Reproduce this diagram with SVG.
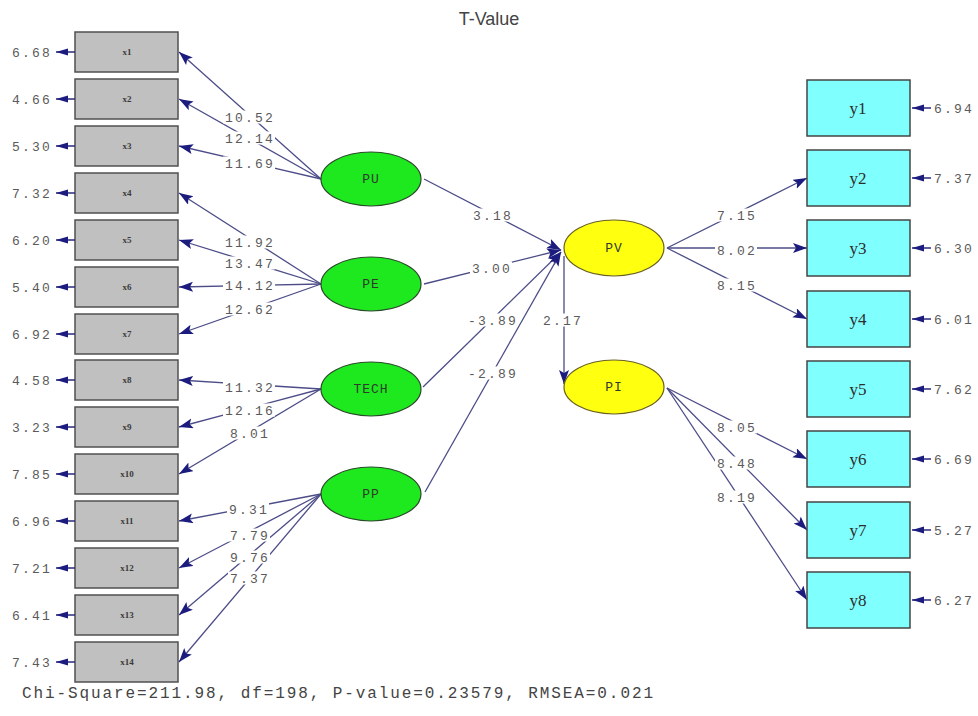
<svg xmlns="http://www.w3.org/2000/svg" width="978" height="716" viewBox="0 0 978 716">
<defs>
<marker id="ah" markerUnits="userSpaceOnUse" markerWidth="15" markerHeight="11" refX="14" refY="5" orient="auto">
<path d="M0,0 L14,5 L0,10 L3,5 z" fill="#1c1c7e"/>
</marker>
<marker id="eh" markerUnits="userSpaceOnUse" markerWidth="13" markerHeight="8" refX="12" refY="3.5" orient="auto">
<path d="M0,0 L12,3.5 L0,7 z" fill="#1c1c7e"/>
</marker>
<style>
.xb{fill:#c0c0c0;stroke:#505050;stroke-width:1.5}
.yb{fill:#80ffff;stroke:#454545;stroke-width:1.5}
.lg{fill:#1ee81e;stroke:#2a4a2a;stroke-width:1.2}
.ly{fill:#ffff10;stroke:#6a6020;stroke-width:1.2}
.xl{font-family:"Liberation Serif",serif;font-size:9px;font-weight:bold;fill:#3a3a3a;text-anchor:middle}
.yl{font-family:"Liberation Serif",serif;font-size:17px;fill:#2e2e2e;text-anchor:middle}
.el{font-family:"Liberation Mono",monospace;font-size:13px;fill:#2e3a2e;text-anchor:middle;letter-spacing:1px}
.n{font-family:"Liberation Mono",monospace;font-size:13px;fill:#5a5a5a;letter-spacing:2.2px}
.bg{fill:#ffffff}
.c{stroke:#4c4c88;stroke-width:1.3;fill:none;marker-end:url(#ah)}
.e{stroke:#2a2a80;stroke-width:1.5;fill:none;marker-end:url(#eh)}
</style>
</defs>
<rect width="978" height="716" fill="#ffffff"/>
<text x="489" y="25" font-family="Liberation Sans,sans-serif" font-size="18" fill="#444" text-anchor="middle">T-Value</text>

<g id="connectors">
<line class="c" x1="321" y1="179" x2="179" y2="52"/>
<line class="c" x1="321" y1="179" x2="179" y2="99"/>
<line class="c" x1="321" y1="179" x2="179" y2="146"/>
<line class="c" x1="321" y1="284" x2="179" y2="193"/>
<line class="c" x1="321" y1="284" x2="179" y2="240"/>
<line class="c" x1="321" y1="284" x2="179" y2="287"/>
<line class="c" x1="321" y1="284" x2="179" y2="334"/>
<line class="c" x1="321" y1="389" x2="179" y2="380"/>
<line class="c" x1="321" y1="389" x2="179" y2="427"/>
<line class="c" x1="321" y1="389" x2="179" y2="474"/>
<line class="c" x1="321" y1="494" x2="179" y2="521"/>
<line class="c" x1="321" y1="494" x2="179" y2="568"/>
<line class="c" x1="321" y1="494" x2="179" y2="615"/>
<line class="c" x1="321" y1="494" x2="179" y2="662"/>
<line class="c" x1="424" y1="179" x2="561" y2="250"/>
<line class="c" x1="424" y1="284" x2="561" y2="250"/>
<line class="c" x1="423" y1="387" x2="561" y2="252"/>
<line class="c" x1="425" y1="492" x2="561" y2="252"/>
<line class="c" x1="564" y1="256" x2="564" y2="384"/>
<line class="c" x1="667" y1="248" x2="807" y2="178"/>
<line class="c" x1="667" y1="248" x2="807" y2="248"/>
<line class="c" x1="667" y1="248" x2="807" y2="319"/>
<line class="c" x1="667" y1="388" x2="807" y2="459"/>
<line class="c" x1="667" y1="388" x2="807" y2="530"/>
<line class="c" x1="667" y1="388" x2="807" y2="600"/>
<g id="edge-label-backs" class="bg">
<rect x="223" y="110.5" width="52" height="13"/>
<rect x="223" y="131.5" width="52" height="13"/>
<rect x="223" y="156.5" width="52" height="13"/>
<rect x="223" y="235.5" width="52" height="13"/>
<rect x="223" y="256.5" width="52" height="13"/>
<rect x="223" y="278.5" width="52" height="13"/>
<rect x="223" y="302.5" width="52" height="13"/>
<rect x="223" y="380.5" width="52" height="13"/>
<rect x="223" y="403.5" width="52" height="13"/>
<rect x="228" y="426.5" width="42" height="13"/>
<rect x="227" y="502.5" width="42" height="13"/>
<rect x="228" y="528.5" width="42" height="13"/>
<rect x="228" y="550.5" width="42" height="13"/>
<rect x="228" y="571.5" width="42" height="13"/>
<rect x="471" y="208.5" width="42" height="13"/>
<rect x="470" y="261.5" width="42" height="13"/>
<rect x="466" y="313.5" width="52" height="13"/>
<rect x="466" y="366.5" width="52" height="13"/>
<rect x="541" y="313.5" width="42" height="13"/>
<rect x="715" y="208.5" width="42" height="13"/>
<rect x="715" y="243.5" width="42" height="13"/>
<rect x="715" y="278.5" width="42" height="13"/>
<rect x="715" y="420.5" width="42" height="13"/>
<rect x="715" y="456.5" width="42" height="13"/>
<rect x="715" y="490.5" width="42" height="13"/>
</g>
<g id="edge-labels" class="n">
<text x="225" y="121.5">10.52</text>
<text x="225" y="142.5">12.14</text>
<text x="225" y="167.5">11.69</text>
<text x="225" y="246.5">11.92</text>
<text x="225" y="267.5">13.47</text>
<text x="225" y="289.5">14.12</text>
<text x="225" y="313.5">12.62</text>
<text x="225" y="391.5">11.32</text>
<text x="225" y="414.5">12.16</text>
<text x="230" y="437.5">8.01</text>
<text x="229" y="513.5">9.31</text>
<text x="230" y="539.5">7.79</text>
<text x="230" y="561.5">9.76</text>
<text x="230" y="582.5">7.37</text>
<text x="473" y="219.5">3.18</text>
<text x="472" y="272.5">3.00</text>
<text x="468" y="324.5">-3.89</text>
<text x="468" y="377.5">-2.89</text>
<text x="543" y="324.5">2.17</text>
<text x="717" y="219.5">7.15</text>
<text x="717" y="254.5">8.02</text>
<text x="717" y="289.5">8.15</text>
<text x="717" y="431.5">8.05</text>
<text x="717" y="467.5">8.48</text>
<text x="717" y="501.5">8.19</text>
</g>
</g>

<g id="x1"><rect class="xb" x="75" y="32" width="103" height="40"/><text class="xl" x="127" y="55">x1</text><line class="e" x1="75" y1="52" x2="56" y2="52"/><text class="n" x="12" y="56.5">6.68</text></g>
<g id="x2"><rect class="xb" x="75" y="79" width="103" height="40"/><text class="xl" x="127" y="102">x2</text><line class="e" x1="75" y1="99" x2="56" y2="99"/><text class="n" x="12" y="103.5">4.66</text></g>
<g id="x3"><rect class="xb" x="75" y="126" width="103" height="40"/><text class="xl" x="127" y="149">x3</text><line class="e" x1="75" y1="146" x2="56" y2="146"/><text class="n" x="12" y="150.5">5.30</text></g>
<g id="x4"><rect class="xb" x="75" y="173" width="103" height="40"/><text class="xl" x="127" y="196">x4</text><line class="e" x1="75" y1="193" x2="56" y2="193"/><text class="n" x="12" y="197.5">7.32</text></g>
<g id="x5"><rect class="xb" x="75" y="220" width="103" height="40"/><text class="xl" x="127" y="243">x5</text><line class="e" x1="75" y1="240" x2="56" y2="240"/><text class="n" x="12" y="244.5">6.20</text></g>
<g id="x6"><rect class="xb" x="75" y="267" width="103" height="40"/><text class="xl" x="127" y="290">x6</text><line class="e" x1="75" y1="287" x2="56" y2="287"/><text class="n" x="12" y="291.5">5.40</text></g>
<g id="x7"><rect class="xb" x="75" y="314" width="103" height="40"/><text class="xl" x="127" y="337">x7</text><line class="e" x1="75" y1="334" x2="56" y2="334"/><text class="n" x="12" y="338.5">6.92</text></g>
<g id="x8"><rect class="xb" x="75" y="360" width="103" height="40"/><text class="xl" x="127" y="383">x8</text><line class="e" x1="75" y1="380" x2="56" y2="380"/><text class="n" x="12" y="384.5">4.58</text></g>
<g id="x9"><rect class="xb" x="75" y="407" width="103" height="40"/><text class="xl" x="127" y="430">x9</text><line class="e" x1="75" y1="427" x2="56" y2="427"/><text class="n" x="12" y="431.5">3.23</text></g>
<g id="x10"><rect class="xb" x="75" y="454" width="103" height="40"/><text class="xl" x="127" y="477">x10</text><line class="e" x1="75" y1="474" x2="56" y2="474"/><text class="n" x="12" y="478.5">7.85</text></g>
<g id="x11"><rect class="xb" x="75" y="501" width="103" height="40"/><text class="xl" x="127" y="524">x11</text><line class="e" x1="75" y1="521" x2="56" y2="521"/><text class="n" x="12" y="525.5">6.96</text></g>
<g id="x12"><rect class="xb" x="75" y="548" width="103" height="40"/><text class="xl" x="127" y="571">x12</text><line class="e" x1="75" y1="568" x2="56" y2="568"/><text class="n" x="12" y="572.5">7.21</text></g>
<g id="x13"><rect class="xb" x="75" y="595" width="103" height="40"/><text class="xl" x="127" y="618">x13</text><line class="e" x1="75" y1="615" x2="56" y2="615"/><text class="n" x="12" y="619.5">6.41</text></g>
<g id="x14"><rect class="xb" x="75" y="642" width="103" height="40"/><text class="xl" x="127" y="665">x14</text><line class="e" x1="75" y1="662" x2="56" y2="662"/><text class="n" x="12" y="666.5">7.43</text></g>

<g id="PU"><ellipse class="lg" cx="371" cy="179" rx="50" ry="27"/><text class="el" x="371" y="183">PU</text></g>
<g id="PE"><ellipse class="lg" cx="371" cy="284" rx="50" ry="27"/><text class="el" x="371" y="288">PE</text></g>
<g id="TECH"><ellipse class="lg" cx="371" cy="389" rx="50" ry="27"/><text class="el" x="371" y="393">TECH</text></g>
<g id="PP"><ellipse class="lg" cx="371" cy="494" rx="50" ry="27"/><text class="el" x="371" y="498">PP</text></g>
<g id="PV"><ellipse class="ly" cx="614" cy="248" rx="50" ry="28"/><text class="el" x="614" y="252">PV</text></g>
<g id="PI"><ellipse class="ly" cx="614" cy="387" rx="50" ry="27"/><text class="el" x="614" y="391">PI</text></g>

<g id="y1"><rect class="yb" x="807" y="80" width="103" height="56"/><text class="yl" x="858" y="114">y1</text><line class="e" x1="931" y1="108" x2="912" y2="108"/><text class="n" x="934" y="112.5">6.94</text></g>
<g id="y2"><rect class="yb" x="807" y="150" width="103" height="56"/><text class="yl" x="858" y="184">y2</text><line class="e" x1="931" y1="178" x2="912" y2="178"/><text class="n" x="934" y="182.5">7.37</text></g>
<g id="y3"><rect class="yb" x="807" y="220" width="103" height="56"/><text class="yl" x="858" y="254">y3</text><line class="e" x1="931" y1="248" x2="912" y2="248"/><text class="n" x="934" y="252.5">6.30</text></g>
<g id="y4"><rect class="yb" x="807" y="291" width="103" height="56"/><text class="yl" x="858" y="325">y4</text><line class="e" x1="931" y1="319" x2="912" y2="319"/><text class="n" x="934" y="323.5">6.01</text></g>
<g id="y5"><rect class="yb" x="807" y="361" width="103" height="56"/><text class="yl" x="858" y="395">y5</text><line class="e" x1="931" y1="389" x2="912" y2="389"/><text class="n" x="934" y="393.5">7.62</text></g>
<g id="y6"><rect class="yb" x="807" y="431" width="103" height="56"/><text class="yl" x="858" y="465">y6</text><line class="e" x1="931" y1="459" x2="912" y2="459"/><text class="n" x="934" y="463.5">6.69</text></g>
<g id="y7"><rect class="yb" x="807" y="502" width="103" height="56"/><text class="yl" x="858" y="536">y7</text><line class="e" x1="931" y1="530" x2="912" y2="530"/><text class="n" x="934" y="534.5">5.27</text></g>
<g id="y8"><rect class="yb" x="807" y="572" width="103" height="56"/><text class="yl" x="858" y="606">y8</text><line class="e" x1="931" y1="600" x2="912" y2="600"/><text class="n" x="934" y="604.5">6.27</text></g>

<text x="22" y="698" font-family="Liberation Mono,monospace" font-size="16" fill="#444" textLength="631" lengthAdjust="spacing">Chi-Square=211.98, df=198, P-value=0.23579, RMSEA=0.021</text>
</svg>
